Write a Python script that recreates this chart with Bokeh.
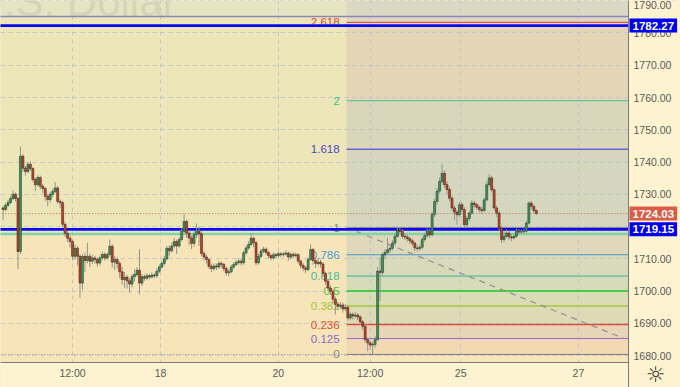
from bokeh.plotting import figure
from bokeh.models import Range1d, FixedTicker, Label, NumeralTickFormatter, LinearAxis, BoxAnnotation
from bokeh.embed import file_html
from bokeh.resources import INLINE
from bokeh.core.properties import value

# ---------------- data ----------------
first_open = 1725.8
closes = [1725.3,1726.6,1727.5,1728.7,1730.0,1728.7,1712.3,1741.8,1738.1,1737.1,
1739.3,1738.0,1734.6,1733.0,1735.2,1732.5,1731.8,1729.4,1728.4,1730.0,
1730.9,1732.0,1727.8,1727.4,1720.7,1717.9,1716.4,1715.4,1710.8,1713.3,
1710.8,1702.5,1710.8,1709.5,1710.8,1709.3,1710.3,1709.8,1708.7,1710.3,
1711.4,1710.3,1711.4,1713.9,1709.0,1709.8,1708.6,1706.0,1703.6,1704.3,
1703.2,1702.2,1704.5,1705.2,1706.5,1702.5,1704.5,1704.0,1704.8,1704.4,
1705.0,1704.8,1706.2,1707.5,1708.6,1710.0,1713.3,1712.5,1714.0,1715.4,
1714.0,1716.0,1718.5,1721.6,1718.0,1716.5,1714.8,1717.6,1718.5,1717.8,
1711.7,1710.6,1709.8,1707.7,1707.0,1707.8,1707.5,1708.6,1708.3,1707.0,
1705.7,1706.0,1707.5,1708.3,1708.9,1709.3,1708.8,1711.9,1713.4,1714.5,
1716.4,1715.0,1708.8,1710.8,1712.4,1713.0,1712.0,1711.0,1710.3,1711.3,
1711.0,1711.6,1711.3,1711.5,1711.8,1710.6,1711.4,1711.0,1711.3,1709.3,
1708.0,1707.2,1706.7,1709.8,1712.9,1709.5,1708.6,1709.0,1708.4,1705.5,
1703.1,1701.0,1700.0,1697.5,1695.9,1695.3,1695.7,1694.5,1695.0,1691.7,
1692.8,1692.3,1692.6,1692.0,1690.5,1689.1,1685.0,1684.0,1683.3,1683.5,
1685.0,1706.2,1705.8,1711.3,1712.0,1712.8,1713.3,1714.9,1717.0,1719.0,
1718.5,1717.0,1716.8,1716.3,1715.6,1714.9,1713.4,1713.2,1713.6,1716.0,
1717.2,1718.5,1717.5,1723.8,1727.8,1731.0,1734.0,1736.5,1733.0,1731.5,
1728.8,1725.8,1724.5,1723.7,1726.8,1725.3,1720.6,1722.5,1724.2,1727.3,
1726.8,1726.0,1725.3,1725.0,1728.3,1733.0,1735.1,1731.4,1725.8,1724.2,
1719.5,1716.0,1717.0,1718.0,1716.8,1716.5,1717.0,1718.6,1718.3,1718.4,
1718.6,1721.1,1727.3,1726.3,1725.0,1724.03]
highs = [1726.3,1727.2,1728.2,1729.5,1731.2,1730.6,1729.2,1744.8,1742.5,1738.8,
1740.0,1740.2,1738.5,1735.2,1735.9,1735.8,1733.2,1732.3,1730.2,1730.8,
1731.8,1733.9,1732.6,1728.5,1728.0,1721.5,1718.6,1717.2,1716.0,1714.5,
1714.0,1711.5,1711.5,1712.0,1715.0,1711.6,1711.2,1711.0,1710.5,1711.0,
1712.2,1712.0,1712.0,1716.0,1714.5,1711.0,1710.6,1709.3,1707.5,1706.0,
1705.0,1704.0,1705.3,1706.8,1707.5,1713.0,1705.3,1705.2,1705.5,1705.3,
1705.8,1705.6,1707.0,1708.3,1709.4,1711.0,1714.0,1714.2,1715.0,1716.5,
1716.0,1716.8,1719.5,1723.8,1722.2,1718.8,1717.2,1718.5,1721.0,1720.0,
1718.6,1712.4,1711.2,1710.2,1708.5,1708.6,1708.5,1709.4,1709.2,1708.8,
1707.6,1706.8,1708.2,1709.0,1709.6,1710.2,1710.0,1712.6,1714.2,1715.5,
1718.0,1716.9,1715.6,1711.6,1713.2,1713.8,1713.6,1712.6,1711.6,1712.0,
1711.9,1712.3,1712.1,1712.2,1712.6,1712.2,1712.0,1712.0,1712.0,1711.8,
1709.8,1708.7,1707.8,1710.5,1714.5,1713.4,1710.4,1710.3,1709.8,1709.0,
1706.0,1703.8,1701.8,1700.8,1698.3,1696.6,1696.6,1696.5,1696.0,1695.8,
1693.6,1693.4,1693.5,1693.2,1692.6,1691.0,1689.6,1685.6,1684.8,1684.4,
1686.0,1707.5,1710.5,1712.0,1713.0,1716.5,1714.2,1715.8,1718.0,1720.0,
1719.8,1719.2,1717.8,1717.4,1716.9,1716.2,1715.4,1714.2,1714.4,1716.8,
1718.0,1719.4,1719.2,1724.6,1728.6,1732.0,1735.2,1739.3,1737.4,1734.0,
1732.2,1729.5,1726.6,1725.2,1727.6,1727.5,1726.0,1723.3,1725.0,1728.2,
1728.0,1727.4,1726.6,1726.2,1729.0,1734.0,1736.2,1735.8,1732.0,1726.5,
1724.8,1720.2,1718.5,1719.2,1718.6,1717.6,1717.8,1719.4,1719.2,1719.0,
1719.3,1721.9,1727.8,1727.9,1726.8,1725.4]
lows = [1722.0,1724.8,1726.0,1727.0,1728.2,1727.8,1706.8,1711.5,1737.0,1735.8,
1736.5,1737.2,1733.8,1731.0,1732.4,1731.6,1730.5,1728.0,1726.3,1727.5,
1729.2,1730.3,1727.0,1725.8,1719.8,1716.8,1715.2,1713.5,1709.5,1709.8,
1708.0,1697.9,1700.5,1706.0,1708.6,1707.5,1708.4,1708.5,1707.6,1708.0,
1709.6,1709.5,1709.7,1710.8,1707.2,1706.5,1707.0,1704.0,1702.0,1701.0,
1700.8,1699.5,1701.2,1703.0,1704.6,1699.0,1701.6,1703.2,1703.5,1703.7,
1703.9,1704.0,1704.2,1705.6,1707.0,1708.0,1709.5,1711.0,1712.0,1713.5,
1711.5,1713.5,1715.5,1718.0,1716.5,1714.2,1713.0,1713.8,1716.5,1714.0,
1710.8,1709.5,1708.5,1706.8,1706.0,1706.4,1706.5,1706.9,1707.2,1706.2,
1704.8,1704.6,1705.5,1706.8,1707.8,1708.2,1707.9,1708.2,1711.2,1712.8,
1714.0,1713.6,1708.0,1708.2,1710.2,1711.8,1711.2,1710.2,1709.6,1709.8,
1710.3,1710.5,1710.6,1710.7,1711.0,1709.4,1709.9,1710.2,1710.4,1708.6,
1707.0,1706.2,1705.6,1706.2,1709.4,1708.2,1707.2,1707.8,1707.3,1704.5,
1702.0,1700.0,1698.8,1696.2,1692.8,1694.2,1694.6,1693.4,1693.8,1690.8,
1691.0,1691.2,1691.5,1691.0,1689.5,1688.0,1684.2,1681.4,1681.8,1680.5,
1682.5,1684.5,1697.0,1704.8,1710.0,1711.5,1711.8,1712.6,1714.2,1716.5,
1717.6,1716.2,1715.8,1715.4,1714.6,1713.9,1712.4,1712.3,1712.5,1713.0,
1715.4,1716.6,1716.5,1717.0,1723.0,1726.8,1730.2,1733.0,1732.0,1729.8,
1727.8,1724.8,1722.0,1720.6,1723.0,1724.4,1719.6,1719.8,1721.8,1723.6,
1725.8,1725.2,1724.4,1724.0,1724.5,1727.8,1732.4,1730.6,1725.0,1723.0,
1718.6,1714.9,1715.2,1716.4,1715.8,1715.5,1716.0,1716.6,1717.6,1717.8,
1717.9,1718.2,1720.6,1725.4,1724.3,1723.5]

time_tick_idx = [28, 63.5, 111, 148, 184.5, 232]
time_tick_labels = ["12:00", "18", "20", "12:00", "25", "27"]
price_ticks = [1680, 1690, 1700, 1710, 1720, 1730, 1740, 1750, 1760, 1770, 1780, 1790]

# Fibonacci retracement drawing
fib_low = 1680.4
fib_high = 1719.7
fib_start = 138.5
fib_levels = [0, 0.125, 0.236, 0.382, 0.5, 0.618, 0.786, 1, 1.618, 2, 2.618, 3.618]
fib_labels = ["0", "0.125", "0.236", "0.382", "0.5", "0.618", "0.786", "1", "1.618", "2", "2.618"]
fib_line_colors = ["#7f7f7f", "#8c6ad0", "#dd4c3e", "#a3c83a", "#4cc84c", "#35b59a",
                   "#4a98cc", "#8a8a8a", "#2f2fd8", "#45c58f", "#e53935"]
fib_label_colors = ["#8a8a8a", "#8a68cc", "#dd4a3c", "#9ec43a", "#3fc83f", "#3dbf9a",
                    "#4a9ed6", "#8a8a8a", "#4a4ac8", "#35c08a", "#dd4a44"]
fib_band_colors = ["#f3d9b2", "#e8d4b6", "#dfdab6", "#d9ddb5", "#d6dcb8", "#d9dabb",
                   "#dfd8ba", "#d4d7bd", "#d9d6bb", "#e3d5b6", "#ddd8c4"]

# horizontal drawings
hline_prices = [1785.1, 1782.27, 1719.15, 1717.7]
hline_colors = ["#8a86b8", "#0a0af0", "#0a0af0", "#7fd4a8"]
hline_widths = [1.6, 2.6, 2.6, 2.6]
last_price = 1724.03
scale_labels = [1782.27, 1724.03, 1719.15]
scale_label_colors = ["#0000f0", "#dd5a44", "#0000f0"]

# trend line of the fib drawing
trend_x = [138.5, 250.2]
trend_y = [1719.7, 1685.4]

# ---------------- layout constants (pixels -> data) ----------------
W, H = 680, 387
PX_PER_BAR = 2.48
BAR0_PX = 2.6
PX_PER_USD = 3.228
TOP_PRICE = 1790.05
AXIS_X_PX, AXIS_Y_PX = 628, 362
def xd(px):
    return (px - BAR0_PX) / PX_PER_BAR
def yd(py):
    return TOP_PRICE - py / PX_PER_USD
axis_x = xd(AXIS_X_PX)
axis_y = yd(AXIS_Y_PX)

p = figure(width=W, height=H, output_backend="svg", toolbar_location=None,
           x_range=Range1d(xd(0), xd(W)), y_range=Range1d(yd(H), TOP_PRICE),
           x_axis_location=None, y_axis_location=None,
           min_border_left=0, min_border_top=0, min_border_right=0, min_border_bottom=0)
p.background_fill_color = "#f7e6bb"
p.border_fill_color = "#fdf3d0"
p.outline_line_color = None

# background areas
p.quad(left=[-10, -10, -10], right=[fib_start] * 3, bottom=[1600, 1717.7, 1785.1],
       top=[1717.7, 1785.1, 1900], fill_color=["#f7e5b9", "#ece6b9", "#e7e4c4"],
       line_color=None, level="image")
rng = fib_high - fib_low
fib_prices = [fib_low + lv * rng for lv in fib_levels]
p.quad(left=fib_start, right=axis_x, bottom=fib_prices[:-1], top=fib_prices[1:],
       fill_color=fib_band_colors, line_color=None, level="image")

# watermark
p.text(x=[xd(176)], y=[1789.7], text=["U.S. Dollar"], text_align="right",
       text_baseline="alphabetic", text_font=value("Liberation Sans"),
       text_font_size="42px", text_color="#d7d4b6")

# fib lines and labels
n_lv = len(fib_labels)
p.segment(x0=[fib_start] * n_lv, x1=[axis_x] * n_lv, y0=fib_prices[:n_lv], y1=fib_prices[:n_lv],
          line_color=fib_line_colors, line_width=[1, 1, 1.3, 1.3, 2, 1, 1, 1, 1, 1, 1])
p.text(x=[fib_start] * n_lv, y=fib_prices[:n_lv], text=fib_labels, text_color=fib_label_colors,
       text_align="right", text_baseline="middle", x_offset=-7,
       text_font=value("Liberation Sans"), text_font_size="11.5px")
p.line(trend_x, trend_y, line_color="#8f8f8f", line_width=1.2, line_dash="6 5")
p.segment(x0=[-10], x1=[fib_start], y0=[fib_low], y1=[fib_low],
          line_color="#8a8a8a", line_width=1, line_dash="1 2")

# horizontal lines
p.segment(x0=[-10] * 4, x1=[axis_x] * 4, y0=hline_prices, y1=hline_prices,
          line_color=hline_colors, line_width=hline_widths)
p.segment(x0=[-10], x1=[axis_x], y0=[last_price], y1=[last_price],
          line_color="#c0664c", line_width=1, line_dash="1 2")

# candles
n = len(closes)
idx = list(range(n))
opens = [first_open] + closes[:-1]
tops = [max(o, c) for o, c in zip(opens, closes)]
bots = [min(o, c) for o, c in zip(opens, closes)]
fills = ["#43915f" if c >= o else "#b5452d" for o, c in zip(opens, closes)]
edges = ["#24492f" if c >= o else "#5c2617" for o, c in zip(opens, closes)]
p.segment(x0=idx, x1=idx, y0=lows, y1=highs, line_color="#8f968c", line_width=1)
p.vbar(x=idx, width=0.8, top=tops, bottom=bots, fill_color=fills,
       line_color=edges, line_width=0.6)

# scale areas (right price scale, bottom time scale)
p.quad(left=[axis_x, -10], right=[400, 400], bottom=[1600, 1600], top=[1900, axis_y],
       fill_color="#fdf3d0", line_color=None)

# grid
p.xgrid.ticker = FixedTicker(ticks=time_tick_idx)
p.ygrid.ticker = FixedTicker(ticks=price_ticks)
for g in (p.xgrid, p.ygrid):
    g.grid_line_color = "#bcc2cc"
    g.grid_line_dash = "4 4"
    g.grid_line_alpha = 0.9

# axes (pinned at the scale borders)
yax = LinearAxis(fixed_location=axis_x, ticker=FixedTicker(ticks=price_ticks),
                 formatter=NumeralTickFormatter(format="0.00"))
xax = LinearAxis(fixed_location=axis_y, ticker=FixedTicker(ticks=time_tick_idx),
                 major_label_overrides={t: s for t, s in zip(time_tick_idx, time_tick_labels)})
for ax in (xax, yax):
    ax.axis_line_color = "#7a7a7a"
    ax.major_tick_line_color = None
    ax.minor_tick_line_color = None
    ax.major_tick_out = 0
    ax.major_tick_in = 0
    ax.minor_tick_out = 0
    ax.major_label_text_color = "#5a5a5a"
    ax.major_label_text_font = "Liberation Sans"
    ax.major_label_text_font_size = "10.5px"
yax.major_label_standoff = 5
xax.major_label_standoff = 4
p.add_layout(yax, "right")
p.add_layout(xax, "below")

# hide the time-scale line under the price scale corner
p.add_layout(BoxAnnotation(left=xd(AXIS_X_PX + 0.7), right=xd(W + 5),
                           top=yd(AXIS_Y_PX - 1.5), bottom=yd(AXIS_Y_PX + 1.5),
                           fill_color="#fdf3d0", fill_alpha=1, line_color=None))

# price labels on the scale
for price, bg in zip(scale_labels, scale_label_colors):
    p.add_layout(Label(x=AXIS_X_PX + 1, y=price, x_units="screen", y_units="data",
                       text=f"{price:.2f}", text_color="white", text_font="Liberation Sans",
                       text_font_size="11.5px", text_font_style="bold",
                       text_baseline="middle", text_align="left",
                       background_fill_color=bg, padding=3))
p.add_layout(Label(x=655, y=H - 374, x_units="screen", y_units="screen", text="☼",
                   text_color="#333333", text_font="DejaVu Sans", text_font_size="22px",
                   text_align="center", text_baseline="middle"))

open("out.html", "w").write(file_html(p, INLINE))
